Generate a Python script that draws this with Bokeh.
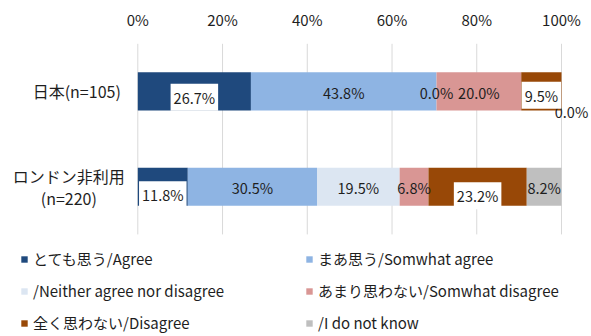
from bokeh.plotting import figure
from bokeh.models import (ColumnDataSource, Range1d, FixedTicker, PrintfTickFormatter,
                          Legend, LegendItem)
from bokeh.core.properties import value
from bokeh.embed import file_html
from bokeh.resources import INLINE

# ---------------- data ----------------
groups = ["日本(n=105)", "ロンドン非利用\n(n=220)"]
agree = [26.7, 11.8]
somewhat_agree = [43.8, 30.5]
neither = [0.0, 19.5]
somewhat_disagree = [20.0, 6.8]
disagree = [9.5, 23.2]
dont_know = [0.0, 8.2]
series_names = ["とても思う/Agree", "まあ思う/Somwhat agree", "/Neither agree nor disagree",
                "あまり思わない/Somwhat disagree", "全く思わない/Disagree", "/I do not know"]
x_ticks = [0, 20, 40, 60, 80, 100]

# ---------------- style ----------------
colors = ["#1F497D", "#8EB4E3", "#DCE6F2", "#D99694", "#984807", "#BFBFBF"]
FONT = "Noto Sans CJK JP"
TXT = "#1E1E1E"
series = [agree, somewhat_agree, neither, somewhat_disagree, disagree, dont_know]

PX = 423.7 / 100.0            # pixels per percent
X0 = 137.3                    # pixel position of 0%
p = figure(width=591, height=336, output_backend="svg", toolbar_location=None,
           x_range=Range1d(-X0 / PX, 100 + (591 - (X0 + 100 * PX)) / PX),
           y_range=Range1d(2.570, -0.501),
           x_axis_location="above", y_axis_location=None,
           min_border_left=0, min_border_right=0, min_border_top=43, min_border_bottom=0)
p.outline_line_color = None
p.xgrid.visible = False
p.ygrid.visible = False
p.background_fill_color = "white"
p.border_fill_color = "white"

ax = p.xaxis[0]
ax.ticker = FixedTicker(ticks=x_ticks)
ax.formatter = PrintfTickFormatter(format="%d%%")
ax.axis_line_color = None
ax.major_tick_line_color = None
ax.minor_tick_line_color = None
ax.major_tick_out = 0
ax.major_label_standoff = 14
ax.major_label_text_font = FONT
ax.major_label_text_font_size = "15px"
ax.major_label_text_color = TXT

# gridlines spanning only the category bands
p.segment(x0=x_ticks, y0=[-0.5] * len(x_ticks), x1=x_ticks, y1=[1.5] * len(x_ticks),
          line_color="#D9D9D9", line_width=1)

# stacked bars
ys = list(range(len(groups)))
cum = [0.0] * len(groups)
renderers = []
lab_x, lab_y, lab_t, lab_xo, lab_yo = [], [], [], [], []
box_x, box_y, box_t, box_yo = [], [], [], []
boxed = {(0, 0), (0, 4), (1, 0), (1, 4)}
box_off = {(0, 0): 6, (0, 4): 4, (1, 0): 8, (1, 4): 9}
for j, vals in enumerate(series):
    left = cum[:]
    right = [l + v for l, v in zip(left, vals)]
    src = ColumnDataSource(dict(y=ys, left=left, right=right))
    r = p.hbar(y="y", left="left", right="right", height=0.40, source=src,
               fill_color=colors[j], line_color=None)
    renderers.append(r)
    for i, v in enumerate(vals):
        cx = left[i] + v / 2.0
        t = f"{v:.1f}%"
        if (i, j) in boxed:
            box_x.append(cx); box_y.append(ys[i]); box_t.append(t); box_yo.append(box_off[(i, j)])
        else:
            if j == len(series) - 1 and v == 0:
                lab_x.append(right[i]); lab_xo.append(10); lab_yo.append(20)
            else:
                lab_x.append(cx); lab_xo.append(0); lab_yo.append(1)
            lab_y.append(ys[i]); lab_t.append(t)
    cum = right

p.text(x="x", y="y", text="t", x_offset="xo", y_offset="yo",
       source=ColumnDataSource(dict(x=lab_x, y=lab_y, t=lab_t, xo=lab_xo, yo=lab_yo)),
       text_font=value(FONT), text_font_size="14.5px", text_color=TXT,
       text_align="center", text_baseline="middle")
p.text(x="x", y="y", text="t", y_offset="yo",
       source=ColumnDataSource(dict(x=box_x, y=box_y, t=box_t, yo=box_yo)),
       text_font=value(FONT), text_font_size="14.5px", text_color=TXT,
       text_align="center", text_baseline="middle",
       background_fill_color="white", padding=3)

# category labels
p.text(x=[0], y=[0], text=[groups[0]], x_offset=-17,
       text_font=value(FONT), text_font_size="16px", text_color=TXT,
       text_align="right", text_baseline="middle")
p.text(x=[0], y=[1], text=[groups[1]], x_offset=-69,
       text_font=value(FONT), text_font_size="16px", text_color=TXT,
       text_align="center", text_baseline="middle", text_line_height=0.92)

legend = Legend(items=[LegendItem(label=n, renderers=[r]) for n, r in zip(series_names, renderers)],
                orientation="horizontal", ncols=2, location=(20, 3),
                glyph_width=8, glyph_height=8, label_standoff=5, spacing=11,
                label_width=261, label_height=20, padding=0, margin=0,
                border_line_color=None, background_fill_alpha=0,
                label_text_font=FONT, label_text_font_size="15px", label_text_color=TXT)
p.add_layout(legend)

open("out.html", "w").write(file_html(p, INLINE))
